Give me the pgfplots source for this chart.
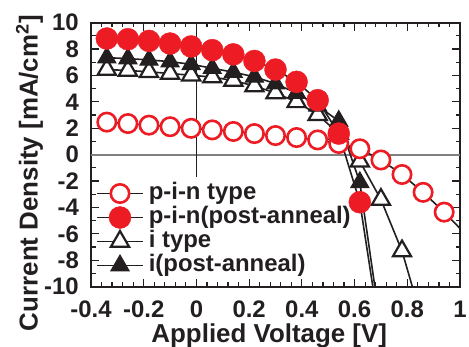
\documentclass[border=0pt]{standalone}
\usepackage{fontspec}
\setmainfont{Liberation Sans}
\usepackage{pgfplots}
\pgfplotsset{compat=1.18}
\definecolor{pinred}{HTML}{ED1C24}
\definecolor{ink}{HTML}{231F20}
\definecolor{zeroline}{HTML}{808080}

% legend sits below the curves
\pgfplotsset{
  layers/legend below/.define layer set={axis background,axis grid,axis ticks,axis lines,axis tick labels,axis descriptions,pre main,main,axis foreground}{/pgfplots/layers/standard},
}

\begin{document}
\begin{tikzpicture}
\begin{axis}[
  set layers=legend below,
  scale only axis, width=369bp, height=264bp,
  xmin=-0.4, xmax=1, ymin=-10, ymax=10,
  xtick={-0.4,-0.2,0,0.2,0.4,0.6,0.8,1},
  xticklabels={-0.4,-0.2,0,0.2,0.4,0.6,0.8,1},
  ytick={-10,-8,-6,-4,-2,0,2,4,6,8,10},
  yticklabels={-10,-8,-6,-4,-2,0,2,4,6,8,10},
  minor x tick num=4, minor y tick num=1,
  tick align=inside,
  major tick length=8bp, minor tick length=4.5bp,
  every tick/.style={ink, line width=1.2bp},
  axis line style={ink, line width=2bp},
  /pgf/number format/assume math mode=true,
  tick label style={font=\fontsize{24}{24}\selectfont\bfseries, text=ink, inner sep=1bp},
  yticklabel style={xshift=-11bp},
  xticklabel style={yshift=-13bp},
  xlabel={Applied Voltage [V]},
  ylabel={Current Density [mA/cm\textsuperscript{2}]},
  label style={font=\fontsize{26}{26}\selectfont\bfseries, text=ink, inner sep=0bp},
  xlabel style={at={(axis description cs:0.483,-0.186)}, anchor=center},
  ylabel style={at={(axis description cs:-0.167,0.43)}, anchor=center},
  legend cell align=left,
  legend image code/.code={\draw[mark repeat=2, mark phase=2, #1] plot coordinates {(0bp,0bp) (23bp,0bp) (46bp,0bp)};},
  legend style={draw=none, fill=none, at={(axis description cs:0,0)}, anchor=south west,
    xshift=5bp, yshift=9bp, inner sep=0bp, row sep=0bp, column sep=4bp,
    font=\fontsize{24}{24}\selectfont\bfseries, text=ink,
    nodes={inner sep=1bp, text height=17bp, text depth=5bp}},
]
% legend entries
\addlegendimage{ink, line width=1.6bp, mark=*, mark size=9.2bp, mark options={draw=pinred, fill=white, line width=2.6bp}}
\addlegendentry{p-i-n type}
\addlegendimage{ink, line width=1.6bp, mark=*, mark size=11bp, mark options={draw=pinred, fill=pinred, line width=0.4bp}}
\addlegendentry{p-i-n(post-anneal)}
\addlegendimage{ink, line width=1.6bp, mark=triangle*, mark size=10.5bp, mark options={draw=ink, fill=white, line width=2.2bp}}
\addlegendentry{i type}
\addlegendimage{ink, line width=1.6bp, mark=triangle*, mark size=10.5bp, mark options={draw=ink, fill=ink, line width=1bp}}
\addlegendentry{i(post-anneal)}

% zero lines
\addplot[forget plot, zeroline, line width=2bp] coordinates {(-0.4,0) (1,0)};
\addplot[forget plot, ink, line width=1bp] coordinates {(0,10) (0,-1.7)};

% i type
\addplot[forget plot, ink, line width=1.6bp, mark=triangle*, mark size=10.5bp,
  mark options={draw=ink, fill=white, line width=2.2bp}] table {
x y
-0.34 6.45
-0.26 6.38
-0.18 6.28
-0.10 6.15
-0.02 6.02
0.06 5.88
0.14 5.62
0.22 5.20
0.30 4.67
0.38 4.00
0.46 3.03
0.54 1.60
0.62 -0.50
0.70 -3.40
0.78 -7.30
0.86 -12.80
};
% i (post-anneal)
\addplot[forget plot, ink, line width=1.6bp, mark=triangle*, mark size=10.5bp,
  mark options={draw=ink, fill=ink, line width=1bp}] table {
x y
-0.34 7.35
-0.26 7.28
-0.18 7.18
-0.10 7.05
-0.02 6.85
0.06 6.55
0.14 6.25
0.22 5.90
0.30 5.38
0.38 4.67
0.46 3.70
0.54 2.55
0.62 -2.10
0.70 -13.20
};
% p-i-n type
\addplot[forget plot, ink, line width=1.6bp, mark=*, mark size=9.2bp, mark indices={1,...,17},
  mark options={draw=pinred, fill=white, line width=2.6bp}] table {
x y
-0.34 2.47
-0.26 2.36
-0.18 2.24
-0.10 2.12
-0.02 2.00
0.06 1.88
0.14 1.76
0.22 1.60
0.30 1.45
0.38 1.30
0.46 1.12
0.54 0.85
0.62 0.45
0.70 -0.40
0.78 -1.50
0.86 -2.85
0.94 -4.35
1.02 -6.00
};
% p-i-n (post-anneal)
\addplot[forget plot, ink, line width=1.6bp, mark=*, mark size=11bp,
  mark options={draw=pinred, fill=pinred, line width=0.4bp}] table {
x y
-0.34 8.80
-0.26 8.75
-0.18 8.62
-0.10 8.42
-0.02 8.20
0.06 7.92
0.14 7.60
0.22 7.10
0.30 6.45
0.38 5.52
0.46 4.13
0.54 1.60
0.62 -3.60
0.70 -14.00
};
\end{axis}
\pgfresetboundingbox
\useasboundingbox (-91bp,-60.3bp) rectangle (378bp,286.7bp);
\end{tikzpicture}
\end{document}
